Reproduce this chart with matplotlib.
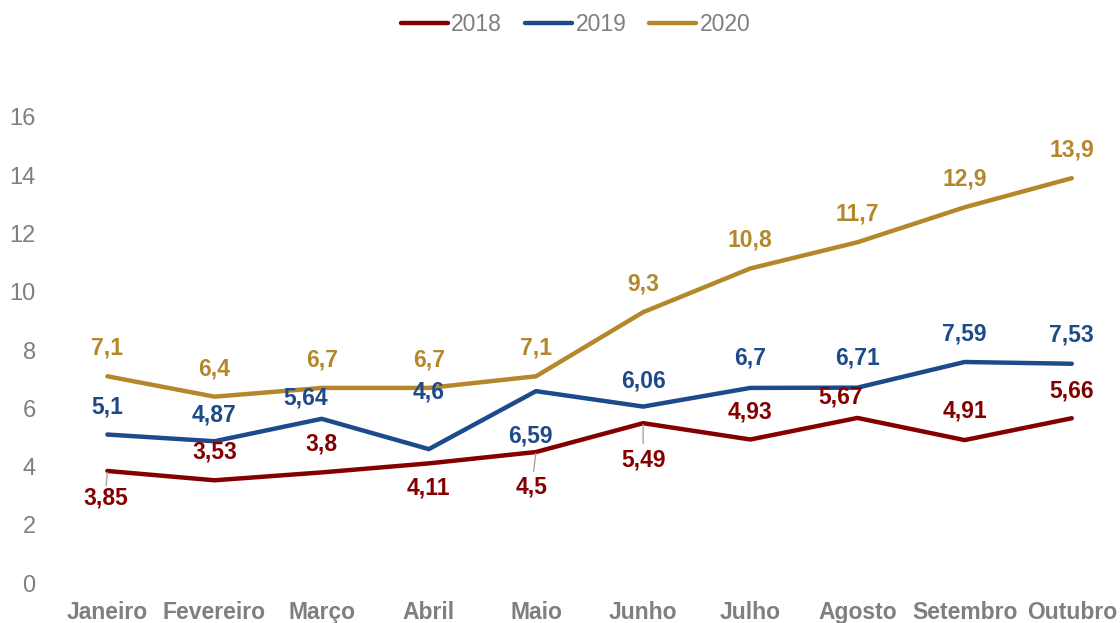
import matplotlib.pyplot as plt

plt.rcParams['font.family'] = ['Liberation Sans', 'DejaVu Sans']

meses = ['Janeiro', 'Fevereiro', 'Março', 'Abril', 'Maio', 'Junho',
         'Julho', 'Agosto', 'Setembro', 'Outubro']
v2018 = [3.85, 3.53, 3.8, 4.11, 4.5, 5.49, 4.93, 5.67, 4.91, 5.66]
v2019 = [5.1, 4.87, 5.64, 4.6, 6.59, 6.06, 6.7, 6.71, 7.59, 7.53]
v2020 = [7.1, 6.4, 6.7, 6.7, 7.1, 9.3, 10.8, 11.7, 12.9, 13.9]
anos = ['2018', '2019', '2020']

cores = ['#840000', '#1D4A8A', '#B4882A']

# label offsets in pixels (dx, dy) and whether a leader line is drawn
off2018 = [(-2, -27, True), (0, 28, False), (0, 28, False), (0, -25, False),
           (-4, -35, True), (0, -37, True), (0, 27, False), (-17, 21, False),
           (0, 29, False), (0, 27, False)]
off2019 = [(0, 28, False), (0, 26, False), (-16, 21, False), (0, 57, False),
           (-6, -45, False), (0, 26, False), (0, 30, False), (0, 30, False),
           (0, 28, False), (0, 29, False)]
off2020 = [(0, 28, False)] * 10

fig = plt.figure(figsize=(11.2, 6.23), dpi=100)
ax = fig.add_axes([0.048, 0.064, 0.952, 0.795])

x = list(range(len(meses)))
series = [v2018, v2019, v2020]
offs = [off2018, off2019, off2020]
for vals, cor, ano, off in zip(series, cores, anos, offs):
    ax.plot(x, vals, color=cor, lw=3.2, label=ano, solid_capstyle='round',
            solid_joinstyle='round')
    for xi, v, (dx, dy, lead) in zip(x, vals, off):
        txt = f'{v:g}'.replace('.', ',')
        ax.annotate(txt, (xi, v), xytext=(dx, dy), textcoords='offset pixels',
                    ha='center', va='center', fontsize=16.5, fontweight='bold',
                    color=cor)
        if lead:
            ax.annotate('', (xi, v), xytext=(dx * 0.6, dy * 0.55),
                        textcoords='offset pixels',
                        arrowprops=dict(arrowstyle='-', color='#A6A6A6',
                                        lw=1, shrinkA=0, shrinkB=1))

ax.set_xlim(-0.5, 9.45)
ax.set_ylim(0, 17)
ax.set_yticks(range(0, 17, 2))
ax.set_xticks(x)
ax.set_xticklabels(meses, fontweight='bold', fontsize=16.5)
ax.tick_params(axis='both', length=0, colors='#7F7F7F')
ax.tick_params(axis='y', labelsize=17, pad=13)
ax.tick_params(axis='x', pad=13)
for s in ax.spines.values():
    s.set_visible(False)

fig.legend(loc='upper center', bbox_to_anchor=(0.514, 1.012), ncol=3,
           frameon=False, fontsize=16.5, labelcolor='#7F7F7F',
           handlelength=2.05, handletextpad=0.15, columnspacing=1.0)

fig.savefig('out.png', dpi=100)
